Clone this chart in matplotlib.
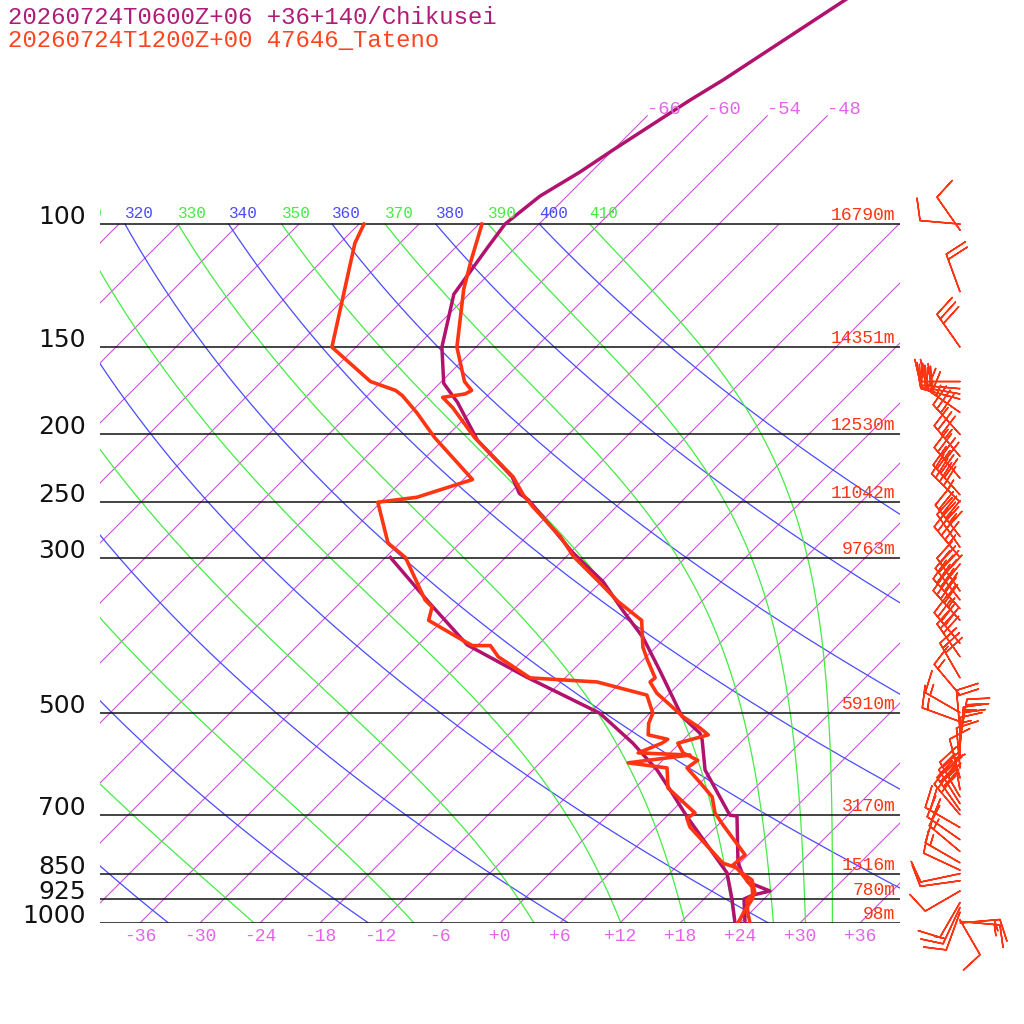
import numpy as np
import matplotlib.pyplot as plt

# ---- values ----
# model forecast (Chikusei) temperature / dewpoint
mdl_p = [1000, 924, 912, 900, 874, 848, 818, 703, 701, 604, 547, 535, 506, 435, 390, 357,
         325, 295, 277, 248, 243, 230, 204, 180, 169, 150, 126, 108, 100, 91.2, 84.2, 78.3,
         66.5, 62.2, 47.8, 44.8]
mdl_t = [24.5, 22.0, 22.5, 23.8, 20.7, 19.2, 17.7, 13.0, 12.2, 5.2, 1.9, 1.0, -2.5, -9.3, -14.3,
         -19.0, -23.8, -29.8, -33.3, -39.5, -41.0, -43.4, -50.5, -56.3, -59.6, -63.4, -67.5,
         -68.8, -69.4, -68.7, -67.1, -66.0, -63.3, -62.0, -57.8, -56.8]
mdl_td_p = [1000, 924, 848, 705, 645, 604, 553, 501, 445, 400, 347, 300]
mdl_td = [23.5, 20.8, 17.7, 8.1, 3.7, 0.4, -4.7, -11.0, -21.9, -31.1, -39.3, -47.5]

# observed sounding (47646 Tateno)
obs_p = [1000, 968, 927, 906, 868, 848, 826, 799, 724, 696, 660, 630, 600, 585, 571, 553, 538,
         526, 507, 469, 452, 446, 420, 403, 369, 347, 323, 299, 280, 254, 244, 230, 202, 183,
         177, 175, 173, 168, 150, 124, 113, 100]
obs_t = [25.0, 23.8, 22.4, 22.5, 20.9, 19.2, 17.5, 17.7, 12.5, 10.5, 8.6, 6.0, 3.2, 3.5, 1.3,
         -0.2, 2.0, 0.5, -2.3, -7.3, -9.1, -9.0, -11.6, -13.3, -16.1, -20.3, -24.6, -29.3,
         -32.6, -38.3, -40.5, -43.3, -51.1, -56.3, -58.3, -56.4, -56.1, -57.7, -61.9, -67.0,
         -69.1, -71.7]
obs_td_p = [1000, 958, 921, 888, 834, 821, 729, 708, 696, 641, 600, 590, 575, 571, 553, 546,
            538, 518, 501, 472, 452, 446, 416, 401, 401, 394, 369, 353, 345, 300, 286, 250,
            246, 232, 202, 186, 176, 173, 168, 150, 106.5, 100]
obs_td = [23.8, 23.2, 22.8, 21.6, 18.2, 16.3, 9.4, 8.2, 8.5, 3.3, 1.2, -3.2, 2.2, -3.2, -1.8,
          -1.6, -4.0, -5.1, -5.7, -8.1, -14.4, -21.5, -26.8, -28.7, -30.5, -32.0, -37.4, -38.4,
          -39.8, -46.0, -49.2, -54.3, -50.9, -47.1, -55.1, -59.4, -62.5, -63.7, -67.1, -74.4,
          -82.5, -83.5]

# observed winds: pressure, direction (deg), speed (kt)
barb_p = [100, 102, 125, 150, 168, 172, 175, 178, 186, 200, 215, 231, 244, 250, 280, 290,
          300, 335, 345, 355, 369, 398, 416, 446, 472, 500, 515, 530, 545, 560, 580, 600,
          620, 645, 660, 675, 690, 700, 730, 760, 790, 820, 840, 850, 870, 900, 935, 950,
          965, 1000, 995, 990]
barb_dir = [275, 325, 340, 325, 270, 275, 280, 285, 305, 318, 320, 320, 318, 315, 322, 325,
            320, 325, 322, 318, 318, 320, 325, 330, 320, 300, 290, 355, 10, 5, 0, 355,
            345, 350, 330, 328, 325, 320, 300, 305, 310, 300, 295, 258, 262, 240, 210, 205,
            200, 85, 95, 150]
barb_spd = [10, 10, 20, 30, 25, 30, 30, 25, 25, 30, 35, 40, 40, 45, 45, 40,
            45, 40, 45, 45, 45, 40, 35, 30, 15, 15, 15, 20, 25, 20, 15, 10,
            10, 5, 35, 35, 30, 25, 20, 20, 15, 15, 10, 10, 10, 10, 10, 15,
            10, 15, 15, 10]

levels = [100, 150, 200, 250, 300, 500, 700, 850, 925, 1000]
heights = ['16790m', '14351m', '12530m', '11042m', '9763m', '5910m', '3170m', '1516m', '780m', '98m']
title_model = '20260724T0600Z+06 +36+140/Chikusei'
title_obs = '20260724T1200Z+00 47646_Tateno'

PURPLE = '#b0126e'
ORANGE = '#ff3412'
ISO_C = '#cf4fe0'
DRY_C = '#4a4aff'
MOIST_C = '#45ea45'

SKEW = 69.9          # deg C of shift per decade of pressure (45 deg lines)
P_TOP = 47.8
X_MIN, X_MAX = -40, 40


def skew_x(t, p):
    return np.asarray(t, float) + SKEW * np.log10(1000.0 / np.asarray(p, float))


def sat_theta_e(tk, p):
    tc = tk - 273.15
    es = 6.112 * np.exp(17.67 * tc / (tc + 243.5))
    r = 0.622 * es / (p - es)
    th = tk * (1000.0 / p) ** (0.2854 * (1 - 0.28 * r))
    return th * np.exp((3.376 / tk - 0.00254) * r * 1000 * (1 + 0.81 * r)), es


fig = plt.figure(figsize=(10.24, 10.24), dpi=100)
ax = fig.add_axes([100 / 1024, 101 / 1024, 800 / 1024, 923 / 1024])
ax.set_yscale('log')

mono = 'Liberation Mono'

# isotherms
for t in range(-108, 42, 6):
    ptop = 70 if -66 <= t <= -48 else 100
    ax.plot(skew_x([t, t], [1000, ptop]), [1000, ptop], color=ISO_C, lw=0.8)
    if ptop == 70:
        ax.text(skew_x(t, 70), 68.5, '%d' % t, color='#e066e6', fontsize=13.5,
                family=mono, ha='left', va='center')

p_grid = np.geomspace(1000, 100, 200)


def adiabat_label(text, x, color):
    # only labels that reach into the frame (the leftmost one is cut by it)
    if x < X_MIN - 3.5 or x > X_MAX:
        return
    ax.annotate(text, xy=(x, 100), xytext=(0, 2.5), textcoords='offset points',
                ha='left', va='bottom', color=color, fontsize=11.5, family=mono,
                annotation_clip=False, clip_on=True)


# dry adiabats
for th in range(240, 420, 20):
    t = th * (p_grid / 1000.0) ** 0.2857 - 273.15
    ax.plot(skew_x(t, p_grid), p_grid, color=DRY_C, lw=0.9)
    adiabat_label(str(th), float(skew_x(t[-1], 100)), DRY_C)

# moist (pseudo) adiabats labelled by theta-e
tk_grid = np.linspace(120, 320, 4001)
moist_labels = np.arange(250, 420, 20)
moist_t = np.zeros((len(moist_labels), len(p_grid)))
for j, p in enumerate(p_grid):
    te, es = sat_theta_e(tk_grid, p)
    ok = es < 0.25 * p
    moist_t[:, j] = np.interp(moist_labels, te[ok], tk_grid[ok]) - 273.15
for i, the in enumerate(moist_labels):
    ax.plot(skew_x(moist_t[i], p_grid), p_grid, color=MOIST_C, lw=0.9)
    adiabat_label(str(the), float(skew_x(moist_t[i, -1], 100)), MOIST_C)

# pressure levels
for p, h in zip(levels, heights):
    ax.axhline(p, color='#111111', lw=1.1)
    ax.text(-0.0175, p, str(p), transform=ax.get_yaxis_transform(), ha='right',
            va='baseline', fontsize=18, family='DejaVu Sans', color='#111111')
    ax.text(0.994, p, h, transform=ax.get_yaxis_transform(), ha='right', va='bottom',
            fontsize=13, family=mono, color=ORANGE)

# temperature labels under the 1000 hPa line
for t in range(-36, 42, 6):
    lab = '+%d' % t if t >= 0 else '%d' % t
    ax.annotate(lab, xy=(t, 1000), xytext=(0, -9.5), textcoords='offset points',
                ha='center', va='center', fontsize=13, family=mono, color='#e066e6',
                annotation_clip=False)

# profiles
ax.plot(skew_x(mdl_td, mdl_td_p), mdl_td_p, color=PURPLE, lw=2.5)
ax.plot(skew_x(mdl_t, mdl_p), mdl_p, color=PURPLE, lw=2.5)
ax.plot(skew_x(obs_td, obs_td_p), obs_td_p, color=ORANGE, lw=2.6)
ax.plot(skew_x(obs_t, obs_p), obs_p, color=ORANGE, lw=2.6)

# wind barbs at the right
d = np.radians(barb_dir)
u = -np.array(barb_spd) * np.sin(d)
v = -np.array(barb_spd) * np.cos(d)
ax.barbs(np.full(len(barb_p), 46.0), barb_p, u, v, length=7.6, color=ORANGE,
         linewidth=1.1, sizes=dict(height=0.55, spacing=0.14), clip_on=False)

ax.set_xlim(X_MIN, X_MAX)
ax.set_ylim(1000, P_TOP)
ax.axis('off')

fig.text(8 / 1024, 1 - 17 / 1024, title_model, color='#b01a78', fontsize=17.3, family=mono,
         ha='left', va='center')
fig.text(8 / 1024, 1 - 41 / 1024, title_obs, color='#ff4520', fontsize=17.3, family=mono,
         ha='left', va='center')

fig.savefig('out.png', dpi=100)
